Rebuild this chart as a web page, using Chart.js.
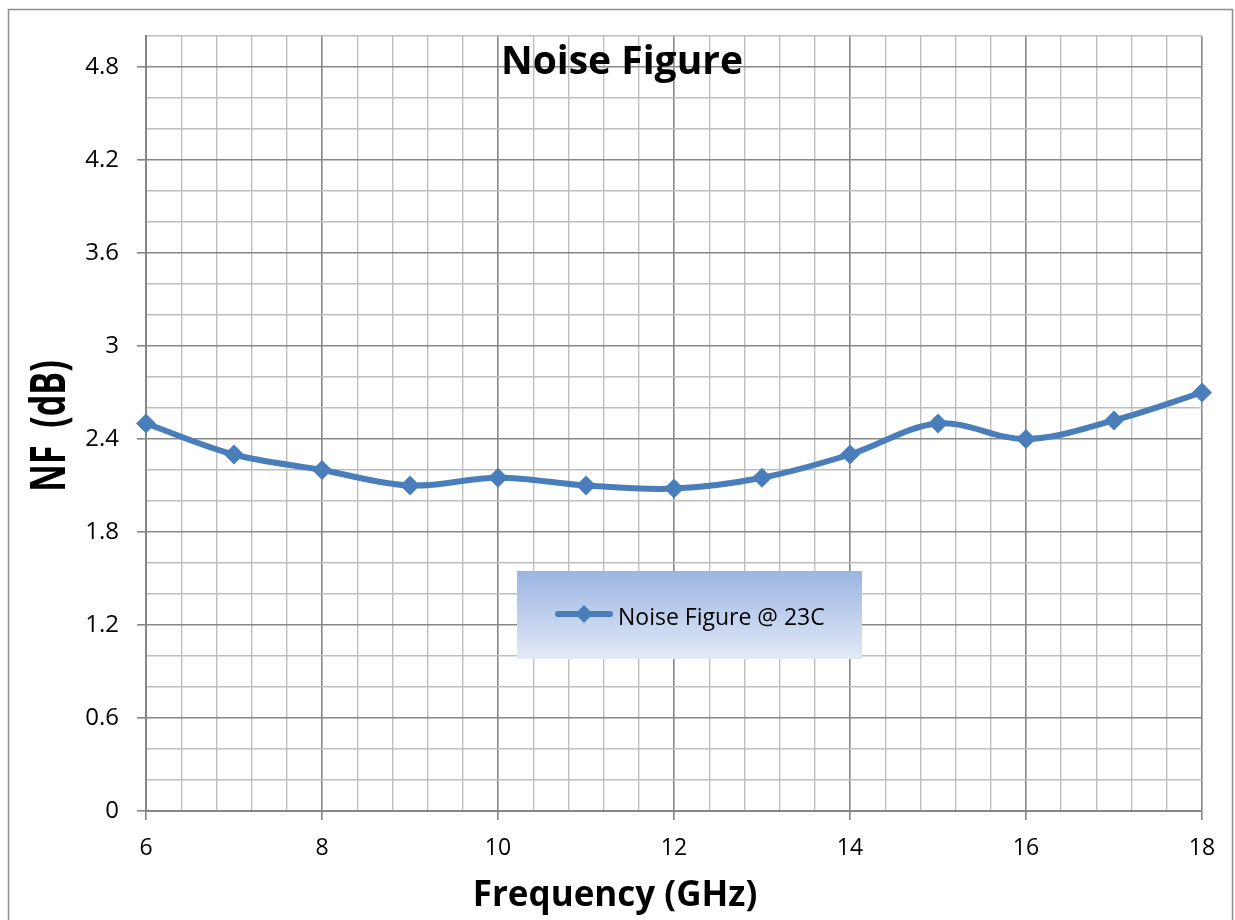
<!DOCTYPE html>
<html>
<head>
<meta charset="utf-8">
<title>Noise Figure</title>
<script src="https://cdn.jsdelivr.net/npm/chart.js@4.4.1/dist/chart.umd.min.js"></script>
<style>
  html, body { margin: 0; padding: 0; background: #fff; }
  #nf-chart { display: block; }
</style>
</head>
<body>
<canvas id="nf-chart" width="1235" height="920"></canvas>
<script>
// values
const freqGHz = [6, 7, 8, 9, 10, 11, 12, 13, 14, 15, 16, 17, 18];
const nfDb = [2.50, 2.30, 2.20, 2.10, 2.15, 2.10, 2.08, 2.15, 2.30, 2.50, 2.40, 2.52, 2.70];
const xMajorTicks = [6, 8, 10, 12, 14, 16, 18];
const yMajorTicks = [0, 0.6, 1.2, 1.8, 2.4, 3, 3.6, 4.2, 4.8];
const seriesLabel = 'Noise Figure @ 23C';

const BLUE = '#4a7ebb';
const MAJOR = '#878787';
const MINOR = '#bebebe';
const FONT = '"Open Sans", "Noto Sans", sans-serif';

const isIn = (list, v) => list.some(t => Math.abs(t - v) < 1e-6);

// titles, legend box and outer frame are drawn here so they sit where Excel put them
const decorations = {
  id: 'decorations',
  beforeDraw(chart) {
    const ctx = chart.ctx;
    ctx.save();
    ctx.strokeStyle = '#8e8e8e';
    ctx.lineWidth = 1.5;
    ctx.strokeRect(8.5, 9.5, 1224, 1000);
    ctx.restore();
  },
  afterDraw(chart) {
    const ctx = chart.ctx;
    ctx.save();
    ctx.fillStyle = '#000';

    // chart title (over the grid)
    ctx.font = 'bold 39px ' + FONT;
    ctx.textAlign = 'center';
    ctx.textBaseline = 'alphabetic';
    ctx.fillText('Noise Figure', 622, 74);

    // x axis title
    ctx.font = 'bold 35px ' + FONT;
    ctx.fillText('Frequency (GHz)', 615, 906);

    // y axis title, a bit stretched like the original
    ctx.save();
    ctx.translate(51, 426);
    ctx.rotate(-Math.PI / 2);
    ctx.scale(1, 1.4);
    ctx.font = 'bold 34px ' + FONT;
    ctx.textBaseline = 'middle';
    ctx.fillText('NF  (dB)', 0, 0);
    ctx.restore();

    // legend
    const lx = 517, ly = 571, lw = 345, lh = 88;
    const grad = ctx.createLinearGradient(0, ly, 0, ly + lh);
    grad.addColorStop(0, '#9bb5e2');
    grad.addColorStop(1, '#e3e9f6');
    ctx.fillStyle = grad;
    ctx.fillRect(lx, ly, lw, lh);

    const ds = chart.data.datasets[0];
    ctx.strokeStyle = ds.borderColor;
    ctx.lineWidth = 6;
    ctx.lineCap = 'round';
    ctx.beginPath();
    ctx.moveTo(558, 614);
    ctx.lineTo(610, 614);
    ctx.stroke();
    ctx.fillStyle = ds.pointBackgroundColor;
    ctx.beginPath();
    ctx.moveTo(584, 605);
    ctx.lineTo(593, 614);
    ctx.lineTo(584, 623);
    ctx.lineTo(575, 614);
    ctx.closePath();
    ctx.fill();

    ctx.fillStyle = '#000';
    ctx.font = '23px ' + FONT;
    ctx.textAlign = 'left';
    ctx.textBaseline = 'alphabetic';
    ctx.fillText(ds.label, 618, 625);
    ctx.restore();
  }
};

const chart = new Chart(document.getElementById('nf-chart'), {
  type: 'line',
  data: {
    datasets: [{
      label: seriesLabel,
      data: freqGHz.map((f, i) => ({ x: f, y: nfDb[i] })),
      borderColor: BLUE,
      backgroundColor: BLUE,
      pointBackgroundColor: BLUE,
      pointBorderColor: BLUE,
      borderWidth: 6,
      tension: 0.35,
      pointStyle: 'rectRot',
      pointRadius: 10,
      pointBorderWidth: 0,
      fill: false,
      clip: false
    }]
  },
  options: {
    responsive: false,
    devicePixelRatio: 1,
    animation: false,
    layout: { padding: { left: 0, top: 36, right: 33, bottom: 0 } },
    plugins: {
      legend: { display: false },
      title: { display: false },
      tooltip: { enabled: false }
    },
    scales: {
      x: {
        type: 'linear',
        min: 6,
        max: 18,
        afterFit: (s) => { s.height = 109; },
        ticks: {
          stepSize: 0.4,
          autoSkip: false,
          maxRotation: 0,
          padding: 15,
          color: '#000',
          font: { family: FONT, size: 23 },
          callback: (v) => isIn(xMajorTicks, v) ? String(Math.round(v)) : ''
        },
        grid: {
          color: (c) => isIn(xMajorTicks, c.tick.value) ? MAJOR : MINOR,
          lineWidth: (c) => isIn(xMajorTicks, c.tick.value) ? 1.6 : 1.4,
          tickColor: (c) => isIn(xMajorTicks, c.tick.value) ? MAJOR : 'rgba(0,0,0,0)',
          tickLength: 9
        },
        border: { color: MAJOR, width: 2 }
      },
      y: {
        min: 0,
        max: 5,
        afterFit: (s) => { s.width = 146; },
        ticks: {
          stepSize: 0.2,
          autoSkip: false,
          padding: 18,
          color: '#000',
          font: { family: FONT, size: 24 },
          callback: (v) => isIn(yMajorTicks, v) ? String(Math.round(v * 10) / 10) : ''
        },
        grid: {
          color: (c) => isIn(yMajorTicks, c.tick.value) ? MAJOR : MINOR,
          lineWidth: (c) => isIn(yMajorTicks, c.tick.value) ? 1.6 : 1.4,
          tickColor: (c) => isIn(yMajorTicks, c.tick.value) ? MAJOR : 'rgba(0,0,0,0)',
          tickLength: 9
        },
        border: { color: MAJOR, width: 2 }
      }
    }
  },
  plugins: [decorations]
});
</script>
</body>
</html>
